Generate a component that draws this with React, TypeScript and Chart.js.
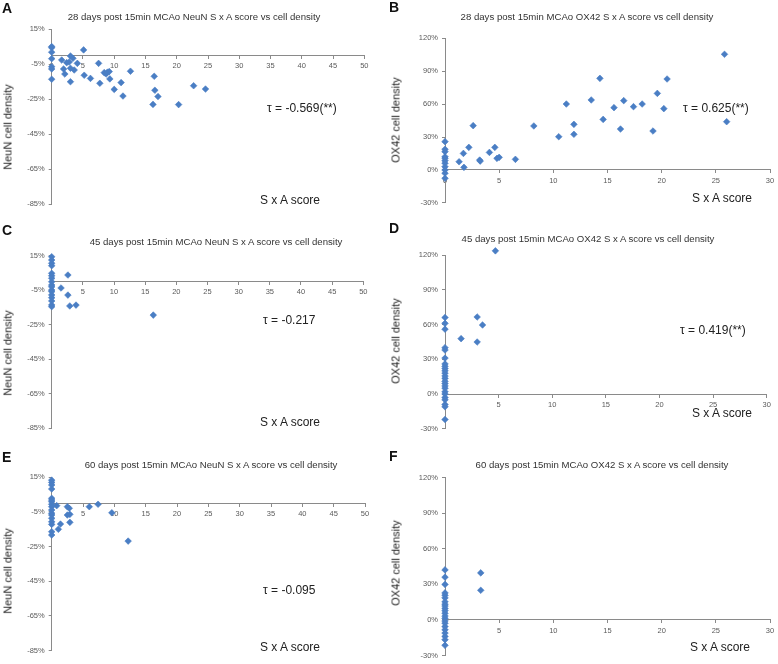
import React, { useEffect, useRef } from "react";
import { Chart, registerables } from "chart.js";

Chart.register(...registerables);

// ---------- data ----------
// A: 28 days NeuN
const neun28X = [0, 0, 0, 0, 0, 0, 0, 1.6, 1.9, 2.1, 2.4, 2.8, 3.0, 3.0, 3.4, 3.0, 3.6, 4.1, 5.1, 5.2, 6.2, 7.5, 7.7, 8.4, 8.7, 8.9, 9.2, 9.3, 10.0, 11.1, 11.4, 12.6, 16.4, 16.5, 17.0, 16.2, 20.3, 22.7, 24.6];
const neun28Y = [5.1, 4.5, 1.9, -1.8, -6.4, -7.7, -13.6, -2.6, -7.7, -10.6, -4.1, -3.7, -0.3, -15.0, -1.6, -7.3, -8.3, -4.5, 3.2, -11.3, -13.1, -4.5, -15.9, -9.8, -10.6, -9.6, -9.2, -13.4, -19.4, -15.5, -23.2, -9.0, -11.9, -19.9, -23.5, -28.0, -28.1, -17.3, -19.2];

// B: 28 days OX42
const ox28X = [0, 0, 0, 0, 0, 0, 0, 0, 0, 0, 0, 1.3, 1.75, 1.7, 2.2, 2.6, 3.2, 3.25, 4.1, 4.6, 4.8, 5.0, 6.5, 8.2, 10.5, 11.2, 11.9, 11.9, 13.5, 14.3, 14.6, 15.6, 16.2, 16.5, 17.4, 18.2, 19.2, 19.6, 20.2, 20.5, 25.8, 26.0];
const ox28Y = [25.8, 18.9, 16.7, 12.1, 10.7, 8.5, 6.1, 3.0, 0, -3.0, -7.6, 7.5, 2.4, 15.1, 20.6, 40.4, 9.0, 8.1, 16.0, 20.6, 10.6, 11.5, 9.7, 40.1, 30.3, 60.1, 41.6, 32.5, 63.8, 83.5, 46.1, 56.8, 37.3, 63.2, 57.7, 60.1, 35.5, 69.8, 55.9, 82.9, 105.4, 44.0];

// C: 45 days NeuN
const neun45X = [0, 0, 0, 0, 0, 0, 0, 0, 0, 0, 0, 0, 0, 0, 0, 0, 0, 2.6, 1.5, 2.6, 2.9, 3.9, 16.3];
const neun45Y = [14.4, 12.5, 10.6, 9.2, 4.8, 3.4, 1.9, -0.1, -2.0, -3.0, -4.9, -5.8, -7.7, -9.3, -11.2, -13.5, -14.5, 3.8, -3.7, -7.8, -14.1, -13.6, -19.4];

// D: 45 days OX42
const ox45X = [0, 0, 0, 0, 0, 0, 0, 0, 0, 0, 0, 0, 0, 0, 0, 0, 0, 0, 0, 0, 0, 0, 0, 0, 4.7, 1.5, 3.0, 3.5, 3.0];
const ox45Y = [66, 61, 56, 40, 38, 31, 26, 24, 22, 20, 18, 15.5, 13.5, 11, 9, 7, 5, 2, 0, -3, -5, -9, -11, -22, 123.6, 47.8, 66.5, 59.6, 44.9];

// E: 60 days NeuN
const neun60X = [0, 0, 0, 0, 0, 0, 0, 0, 0, 0, 0, 0, 0, 0, 0, 0, 0, 0.8, 1.06, 1.4, 2.5, 2.8, 2.5, 2.9, 2.9, 6.0, 7.4, 9.6, 12.2];
const neun60Y = [13.2, 11.9, 10.4, 8.1, 2.7, 1.7, 0.8, -0.7, -2.1, -4.0, -5.9, -6.9, -8.8, -10.8, -12.3, -16.5, -18.4, -1.5, -15.1, -12.1, -2.1, -3.0, -6.9, -6.5, -11.1, -2.1, -0.7, -5.6, -21.9];

// F: 60 days OX42
const ox60X = [0, 0, 0, 0, 0, 0, 0, 0, 0, 0, 0, 0, 0, 0, 0, 0, 0, 0, 0, 0, 0, 0, 3.3, 3.3];
const ox60Y = [42.2, 36.1, 30, 22.8, 20.8, 18.6, 15.3, 13.3, 11.7, 9.7, 7.8, 5.6, 3.3, 1.4, -0.8, -2.8, -5.6, -8.3, -11.1, -13.9, -16.7, -21.4, 39.7, 25];

// tick labels
const neunYTicks = [15, -5, -25, -45, -65, -85];
const ox42YTicks = [120, 90, 60, 30, 0, -30];
const neunXTicks = [0, 5, 10, 15, 20, 25, 30, 35, 40, 45, 50];
const ox42XTicks = [0, 5, 10, 15, 20, 25, 30];

// texts
const titles = [
  "28 days post 15min MCAo NeuN S x A score vs cell density",
  "28 days post 15min MCAo  OX42 S x A score vs cell density",
  "45 days post 15min MCAo NeuN S x A score vs cell density",
  "45 days post 15min MCAo OX42 S x A score vs cell density",
  "60 days post 15min MCAo NeuN S x A score vs cell density",
  "60 days post 15min MCAo OX42 S x A score vs cell density",
];
const tauTexts = ["τ = -0.569(**)", "τ = 0.625(**)", "τ = -0.217", "τ = 0.419(**)", "τ = -0.095", ""];
const letters = ["A", "B", "C", "D", "E", "F"];
const xTitle = "S x A score";

// ---------- style ----------
const BLUE = "#4a7ec4";
const AXIS = "#8a8a8a";
const TICK_COLOR = "#5a5a5a";
const FONT = "'Liberation Sans', Arial, sans-serif";

type PanelDef = {
  letter: string;
  title: string;
  tau: string;
  yTitle: string;
  xs: number[];
  ys: number[];
  xTicks: number[];
  yTicks: number[];
  box: [number, number, number, number]; // x, y, w, h (global)
  area: [number, number, number, number]; // left, top, right, bottom (global)
  titlePos: [number, number];
  tauPos: [number, number];
  sxaPos: [number, number];
  yTitlePos: [number, number];
  letterPos: [number, number];
};

const panels: PanelDef[] = [
  {
    letter: letters[0], title: titles[0], tau: tauTexts[0], yTitle: "NeuN cell density",
    xs: neun28X, ys: neun28Y, xTicks: neunXTicks, yTicks: neunYTicks,
    box: [0, 0, 390, 218], area: [51.7, 29.3, 364.3, 204],
    titlePos: [194, 16.7], tauPos: [267, 108], sxaPos: [260, 200], yTitlePos: [8, 127], letterPos: [2, 8],
  },
  {
    letter: letters[1], title: titles[1], tau: tauTexts[1], yTitle: "OX42 cell density",
    xs: ox28X, ys: ox28Y, xTicks: ox42XTicks, yTicks: ox42YTicks,
    box: [390, 0, 388, 218], area: [445, 38.3, 770, 202.9],
    titlePos: [587, 16.7], tauPos: [683, 108], sxaPos: [692, 198], yTitlePos: [396, 120], letterPos: [389, 7],
  },
  {
    letter: letters[2], title: titles[2], tau: tauTexts[2], yTitle: "NeuN cell density",
    xs: neun45X, ys: neun45Y, xTicks: neunXTicks, yTicks: neunYTicks,
    box: [0, 218, 390, 220], area: [51.7, 255.7, 363.3, 428.4],
    titlePos: [216, 241.7], tauPos: [263, 320], sxaPos: [260, 422], yTitlePos: [8, 353], letterPos: [2, 230],
  },
  {
    letter: letters[3], title: titles[3], tau: tauTexts[3], yTitle: "OX42 cell density",
    xs: ox45X, ys: ox45Y, xTicks: ox42XTicks, yTicks: ox42YTicks,
    box: [390, 218, 388, 220], area: [445, 255, 766.7, 428.8],
    titlePos: [588, 239], tauPos: [680, 330], sxaPos: [692, 413], yTitlePos: [396, 341], letterPos: [389, 227.5],
  },
  {
    letter: letters[4], title: titles[4], tau: tauTexts[4], yTitle: "NeuN cell density",
    xs: neun60X, ys: neun60Y, xTicks: neunXTicks, yTicks: neunYTicks,
    box: [0, 440, 390, 224], area: [51.7, 477, 365, 650.7],
    titlePos: [211, 465], tauPos: [263, 590], sxaPos: [260, 647], yTitlePos: [8, 571], letterPos: [2, 457],
  },
  {
    letter: letters[5], title: titles[5], tau: tauTexts[5], yTitle: "OX42 cell density",
    xs: ox60X, ys: ox60Y, xTicks: ox42XTicks, yTicks: ox42YTicks,
    box: [390, 440, 388, 224], area: [445, 477.7, 770, 657.7],
    titlePos: [602, 465], tauPos: [680, 590], sxaPos: [690, 647], yTitlePos: [396, 563], letterPos: [389, 455.5],
  },
];

function Panel({ p }: { p: PanelDef }) {
  const ref = useRef<HTMLCanvasElement | null>(null);
  const [bx, by, bw, bh] = p.box;
  const [aL, aT, aR, aB] = p.area;

  useEffect(() => {
    if (!ref.current) return;
    const left = aL - bx;
    const top = aT - by;
    const right = bw - (aR - bx);
    const bottom = bh - (aB - by);
    const xt = [...p.xTicks].sort((a, b) => a - b);
    const yt = [...p.yTicks].sort((a, b) => a - b);
    const tickFont = { family: FONT, size: 7.5 };
    const chart = new Chart(ref.current, {
      type: "scatter",
      data: {
        datasets: [
          {
            data: p.xs.map((x, i) => ({ x, y: p.ys[i] })),
            pointStyle: "rectRot",
            pointRadius: 3.3,
            pointBorderWidth: 0.6,
            backgroundColor: BLUE,
            borderColor: BLUE,
            clip: false,
          } as any,
        ],
      },
      options: {
        responsive: false,
        animation: false,
        devicePixelRatio: 1,
        events: [],
        layout: { padding: { left: 0, top, right, bottom } },
        plugins: {
          legend: { display: false },
          tooltip: { enabled: false },
          title: { display: false },
        },
        scales: {
          x: {
            type: "linear",
            position: { y: 0 } as any,
            min: xt[0],
            max: xt[xt.length - 1],
            afterBuildTicks: (s: any) => {
              s.ticks = xt.map((v) => ({ value: v }));
            },
            grid: { display: true, drawOnChartArea: false, drawTicks: true, tickLength: 3, color: AXIS },
            border: { display: true, color: AXIS, width: 1 },
            ticks: { font: tickFont, color: TICK_COLOR, padding: 3, maxRotation: 0, autoSkip: false },
          },
          y: {
            type: "linear",
            position: "left",
            min: yt[0],
            max: yt[yt.length - 1],
            afterBuildTicks: (s: any) => {
              s.ticks = yt.map((v) => ({ value: v }));
            },
            afterFit: (s: any) => {
              s.width = left;
            },
            grid: { display: true, drawOnChartArea: false, drawTicks: true, tickLength: 3, color: AXIS },
            border: { display: true, color: AXIS, width: 1 },
            ticks: {
              font: tickFont,
              color: TICK_COLOR,
              padding: 4,
              autoSkip: false,
              callback: (v: any) => `${v}%`,
            },
          },
        } as any,
      },
    });
    return () => chart.destroy();
  }, []);

  const txt = (x: number, y: number, extra: React.CSSProperties, content: string, center = false) => (
    <div
      style={{
        position: "absolute",
        left: x - bx,
        top: y - by,
        transform: center ? "translate(-50%, -50%)" : "translateY(-50%)",
        whiteSpace: "nowrap",
        lineHeight: 1,
        fontFamily: FONT,
        ...extra,
      }}
    >
      {content}
    </div>
  );

  return (
    <div style={{ position: "absolute", left: bx, top: by, width: bw, height: bh, overflow: "hidden" }}>
      <canvas ref={ref} width={bw} height={bh} style={{ display: "block", width: bw, height: bh }} />
      {txt(p.letterPos[0], p.letterPos[1], { fontSize: 14, fontWeight: "bold", color: "#111" }, p.letter)}
      {txt(p.titlePos[0], p.titlePos[1], { fontSize: 9.6, color: "#333" }, p.title, true)}
      {p.tau ? txt(p.tauPos[0], p.tauPos[1], { fontSize: 12, color: "#222" }, p.tau) : null}
      {txt(p.sxaPos[0], p.sxaPos[1], { fontSize: 12, color: "#222" }, xTitle)}
      <div
        style={{
          position: "absolute",
          left: p.yTitlePos[0] - bx,
          top: p.yTitlePos[1] - by,
          transform: "translate(-50%, -50%) rotate(-90deg)",
          whiteSpace: "nowrap",
          lineHeight: 1,
          fontFamily: FONT,
          fontSize: 11,
          color: "#222",
        }}
      >
        {p.yTitle}
      </div>
    </div>
  );
}

export default function App() {
  return (
    <div style={{ position: "absolute", left: 0, top: 0, width: 778, height: 664, background: "#fff", overflow: "hidden" }}>
      {panels.map((p, i) => (
        <Panel key={i} p={p} />
      ))}
    </div>
  );
}
